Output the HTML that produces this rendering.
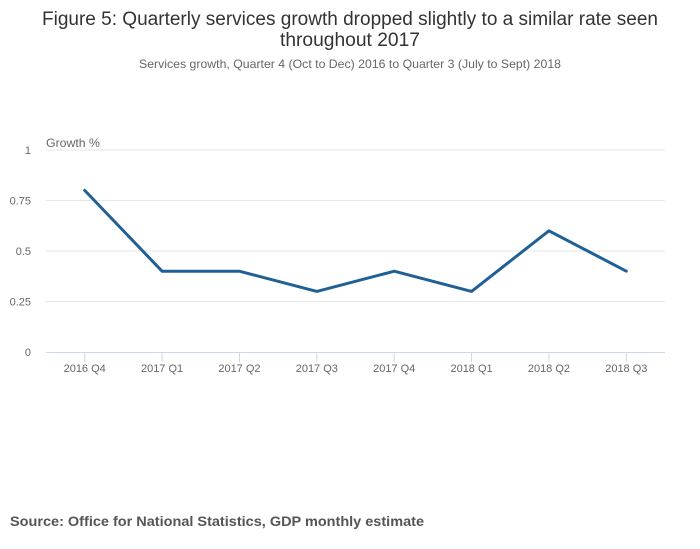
<!DOCTYPE html>
<html><head><meta charset="utf-8"><style>
html,body{margin:0;padding:0;background:#fff;}
svg{display:block;font-family:"Liberation Sans",sans-serif;}
</style></head><body>
<svg id="chart" width="700" height="549" viewBox="0 0 700 549">
<text x="350" y="25" text-anchor="middle" font-size="19" fill="#333" textLength="616" lengthAdjust="spacingAndGlyphs">Figure 5: Quarterly services growth dropped slightly to a similar rate seen</text>
<text x="350" y="46" text-anchor="middle" font-size="19" fill="#333" textLength="140" lengthAdjust="spacingAndGlyphs">throughout 2017</text>
<text x="350" y="68" text-anchor="middle" font-size="12" fill="#666" textLength="422" lengthAdjust="spacingAndGlyphs">Services growth, Quarter 4 (Oct to Dec) 2016 to Quarter 3 (July to Sept) 2018</text>
<text x="46" y="147" font-size="12" fill="#666" textLength="54" lengthAdjust="spacingAndGlyphs">Growth %</text>
<g id="grid"></g><g id="xaxis"></g><g id="series"></g>
<text x="10" y="526" font-size="14" font-weight="bold" fill="#555" textLength="414" lengthAdjust="spacingAndGlyphs">Source: Office for National Statistics, GDP monthly estimate</text>
</svg>
<script>
const categories=["2016 Q4","2017 Q1","2017 Q2","2017 Q3","2017 Q4","2018 Q1","2018 Q2","2018 Q3"];
const growthValues=[0.8,0.4,0.4,0.3,0.4,0.3,0.6,0.4];
const yTicks=[0,0.25,0.5,0.75,1];
const yTickLabels=["0","0.25","0.5","0.75","1"];
const NS="http://www.w3.org/2000/svg";
const L=46,R=665,T=150,B=352;
const y=v=>B-(v-0)/(1-0)*(B-T);
const step=(R-L)/categories.length;
const x=i=>L+step*(i+0.5);
function mk(t,a,p){const e=document.createElementNS(NS,t);for(const k in a)e.setAttribute(k,a[k]);p.appendChild(e);return e;}
const g=document.getElementById('grid'),xa=document.getElementById('xaxis'),s=document.getElementById('series');
yTicks.forEach((v,i)=>{
  if(v!==0){const l=mk('line',{x1:L,x2:R,y1:y(v),y2:y(v),stroke:'#e6e6e6','stroke-width':1},g);
  
  }
  const t=mk('text',{x:31,y:y(v)+4,'text-anchor':'end','font-size':11,fill:'#666'},g);
  t.textContent=yTickLabels[i];
  
  
});
const ax=mk('line',{x1:L,x2:R,y1:B+0.5,y2:B+0.5,stroke:'#ccd6eb','stroke-width':1},xa);


categories.forEach((c,i)=>{
  const tk=mk('line',{x1:x(i),x2:x(i),y1:B,y2:B+10,stroke:'#ccd6eb','stroke-width':1},xa);
  
  
  const t=mk('text',{x:x(i),y:B+20,'text-anchor':'middle','font-size':11,fill:'#666'},xa);
  t.textContent=c;
  
  
});
const pts=growthValues.map((v,i)=>x(i)+','+y(v)).join(' ');
const line=mk('polyline',{points:pts,fill:'none',stroke:'#206095','stroke-width':3,'stroke-linejoin':'round','stroke-linecap':'round'},s);


</script>
</body></html>
